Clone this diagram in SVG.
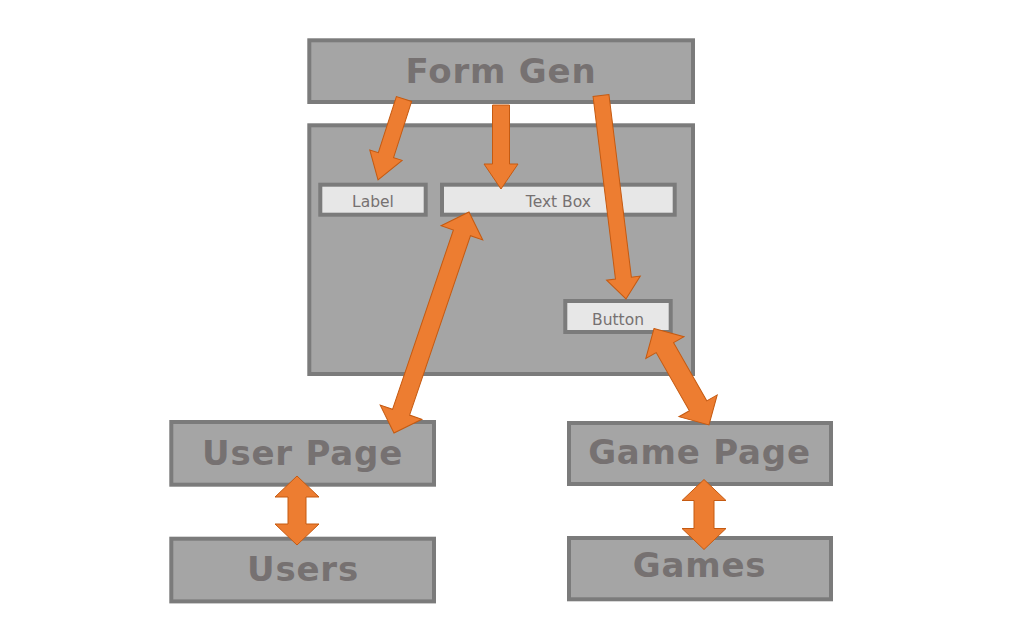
<svg xmlns="http://www.w3.org/2000/svg" width="1024" height="640" viewBox="0 0 1024 640">
<style>
.box{fill:#a5a5a5;stroke:#7b7b7b;stroke-width:4}
.inner{fill:#e7e7e7;stroke:#7b7b7b;stroke-width:4}
.big{font-family:"DejaVu Sans",Verdana,sans-serif;font-weight:bold;font-size:34px;letter-spacing:0.8px;fill:#767171;text-anchor:middle}
.small{font-family:"DejaVu Sans",Verdana,sans-serif;font-size:15.5px;fill:#767171;text-anchor:middle}
.arr{fill:#ed7d31;stroke:#c55a11;stroke-width:1;stroke-linejoin:miter}
</style>
<rect width="1024" height="640" fill="#ffffff"/>
<g id="form-gen"><rect class="box" x="309.3" y="40.3" width="383.7" height="61.7"/><text class="big" x="501" y="83.3">Form Gen</text></g>
<g id="form-container"><rect class="box" x="309.3" y="125.3" width="383.7" height="248.7"/></g>
<g id="label"><rect class="inner" x="320.3" y="184.7" width="105.4" height="30"/><text class="small" x="373" y="207.3">Label</text></g>
<g id="text-box"><rect class="inner" x="442" y="184.7" width="232.7" height="30"/><text class="small" x="558.4" y="207.3">Text Box</text></g>
<g id="button"><rect class="inner" x="565.3" y="301" width="105.4" height="31"/><text class="small" x="618" y="324.5">Button</text></g>
<g id="user-page"><rect class="box" x="171.3" y="422" width="262.7" height="62.7"/><text class="big" x="302.5" y="465">User Page</text></g>
<g id="users"><rect class="box" x="171.3" y="538.7" width="262.7" height="62.7"/><text class="big" x="303" y="580.7">Users</text></g>
<g id="game-page"><rect class="box" x="569" y="423" width="262" height="61"/><text class="big" x="699.5" y="464">Game Page</text></g>
<g id="games"><rect class="box" x="569" y="538" width="262" height="61.3"/><text class="big" x="699.5" y="577">Games</text></g>
<g id="connectors">
<polygon class="arr" transform="translate(404,99) rotate(107.8)" points="0,-8 59,-8 59,-17 85,0 59,17 59,8 0,8"/>
<polygon class="arr" transform="translate(501,105) rotate(90)" points="0,-8.5 59,-8.5 59,-17 84,0 59,17 59,8.5 0,8.5"/>
<polygon class="arr" transform="translate(601,95.5) rotate(83)" points="0,-8 184,-8 184,-17 205,0 184,17 184,8 0,8"/>
<polygon class="arr" transform="translate(469,212) rotate(108.75)" points="0,0 22,-22 22,-9 211.4,-9 211.4,-22 233.4,0 211.4,22 211.4,9 22,9 22,22"/>
<polygon class="arr" transform="translate(654,328.5) rotate(60.3)" points="0,0 22,-22 22,-10 89,-10 89,-22 111,0 89,22 89,10 22,10 22,22"/>
<polygon class="arr" transform="translate(297,476) rotate(90)" points="0,0 21,-22 21,-9 48,-9 48,-22 69,0 48,22 48,9 21,9 21,22"/>
<polygon class="arr" transform="translate(704,479.5) rotate(90)" points="0,0 21,-22 21,-10 49,-10 49,-22 70,0 49,22 49,10 21,10 21,22"/>
</g>
</svg>
